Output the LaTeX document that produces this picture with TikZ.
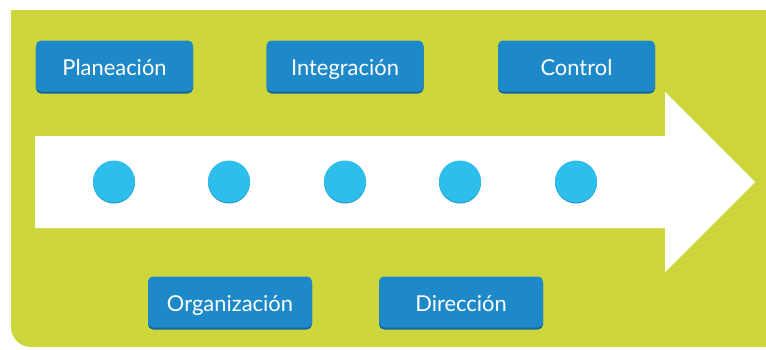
\documentclass[tikz,border=0pt]{standalone}
\usepackage{fontspec}
\setmainfont{Lato}
\definecolor{bggreen}{RGB}{205,215,60}
\definecolor{boxblue}{RGB}{30,137,201}
\definecolor{boxshade}{RGB}{22,100,155}
\definecolor{dotblue}{RGB}{45,190,235}
\definecolor{dotshade}{RGB}{30,150,200}
\begin{document}
\begin{tikzpicture}[x=1bp,y=-1bp,
  stagebox/.style={fill=boxblue, rounded corners=5bp, minimum width=157bp, minimum height=51bp,
    inner sep=0pt, text height=22bp, text depth=4bp, text=white, font=\fontsize{22}{26}\selectfont},
  widebox/.style={stagebox, minimum width=164bp},
  dot/.style={circle, fill=dotblue, minimum size=42bp, inner sep=0pt}]
\useasboundingbox (0,0) rectangle (766,349);
\fill[white] (0,0) rectangle (766,349);
% green panel
\fill[bggreen] (11,10) -- (766,10) -- (766,347) -- (31,347) arc[start angle=90, end angle=180, radius=20] -- cycle;
% arrow
\fill[white] (35,136) -- (665,136) -- (665,92) -- (755,182) -- (665,272) -- (665,228) -- (35,228) -- cycle;
% dots
\foreach \i/\x in {1/114,2/229,3/345,4/460,5/576}{
  \fill[dotshade] (\x,182.5) circle[radius=21];
  \node[dot] (d\i) at (\x,181.5) {};
}
% boxes with shadows
\foreach \n/\x/\y/\t in {pl/114.5/66/Planeación, in/345/66/Integración, co/576.5/66/Control}{
  \node[stagebox, fill=boxshade, text=boxshade] at (\x,\y+2) {\phantom{\t}};
  \node[stagebox] (\n) at (\x,\y) {\t};
}
\foreach \n/\x/\y/\t in {or/230/302/Organización, di/461/302/Dirección}{
  \node[widebox, fill=boxshade, text=boxshade] at (\x,\y+2) {\phantom{\t}};
  \node[widebox] (\n) at (\x,\y) {\t};
}
\end{tikzpicture}
\end{document}
